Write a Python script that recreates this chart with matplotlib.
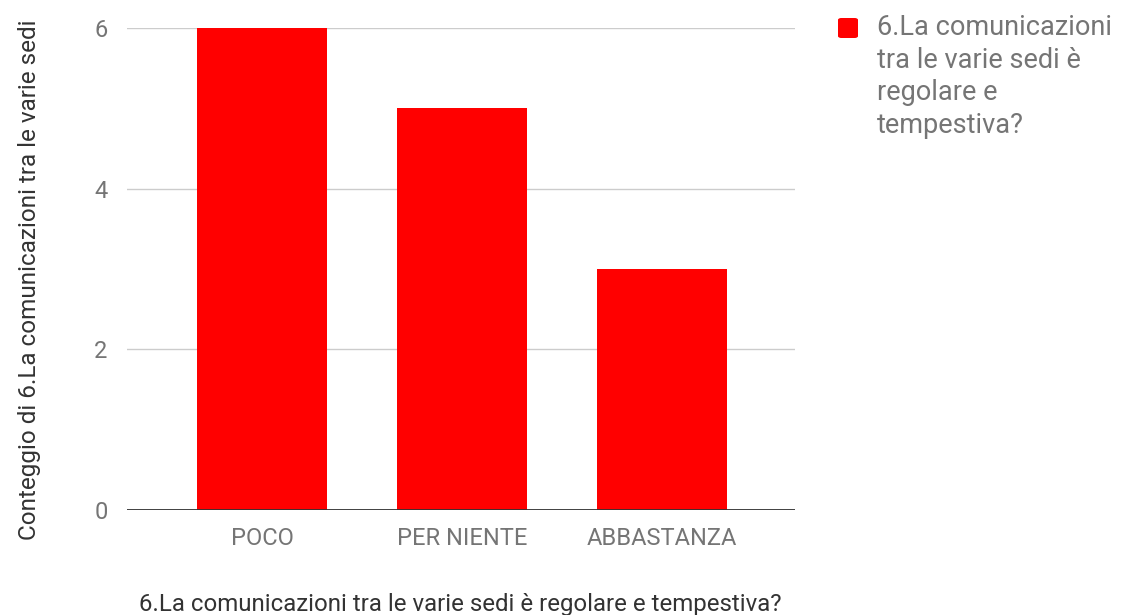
import matplotlib.pyplot as plt
from matplotlib.patches import FancyBboxPatch

categories = ["POCO", "PER NIENTE", "ABBASTANZA"]
counts = [6, 5, 3]
yticks = [0, 2, 4, 6]
series_name = "6.La comunicazioni\ntra le varie sedi è\nregolare e\ntempestiva?"
x_title = "6.La comunicazioni tra le varie sedi è regolare e tempestiva?"
y_title = "Conteggio di 6.La comunicazioni tra le varie sedi"

plt.rcParams["font.family"] = ["Roboto", "DejaVu Sans"]
W, H = 1123, 615

fig = plt.figure(figsize=(W / 100, H / 100), dpi=100)
ax = fig.add_axes([127 / W, 1 - 510 / H, (795 - 127) / W, (510 - 28) / H])

x = list(range(len(categories)))
ax.bar(x, counts, width=0.65, color="#ff0000", zorder=3)

ax.set_xlim(-0.675, 2.665)
ax.set_ylim(0, 6)
ax.set_yticks(yticks)
ax.set_xticks(x)
ax.set_xticklabels(categories)
ax.grid(axis="y", color="#cccccc", linewidth=1, zorder=0)
ax.axhline(0, color="#333333", linewidth=1.3, zorder=4)
for s in ax.spines.values():
    s.set_visible(False)
ax.tick_params(axis="both", length=0, labelsize=17, labelcolor="#757575")
ax.tick_params(axis="y", pad=14)
ax.tick_params(axis="x", pad=12)

fig.text(460 / W, 1 - 605 / H, x_title, ha="center", va="center",
         fontsize=17.3, color="#333333")
fig.text(30 / W, 1 - 280 / H, y_title, ha="center", va="center",
         rotation=90, fontsize=17.5, color="#333333")

# legend drawn by hand so the swatch lines up with the first text line
fig.patches.append(FancyBboxPatch((838 / W, 1 - 38 / H), 20 / W, 20 / H,
                                  boxstyle="round,pad=0,rounding_size=0.003",
                                  facecolor="#ff0000", edgecolor="none",
                                  transform=fig.transFigure, figure=fig))
fig.text(877 / W, 1 - 14 / H, series_name, ha="left", va="top",
         fontsize=19.5, color="#757575", linespacing=1.27)

fig.savefig("out.png", dpi=100)
